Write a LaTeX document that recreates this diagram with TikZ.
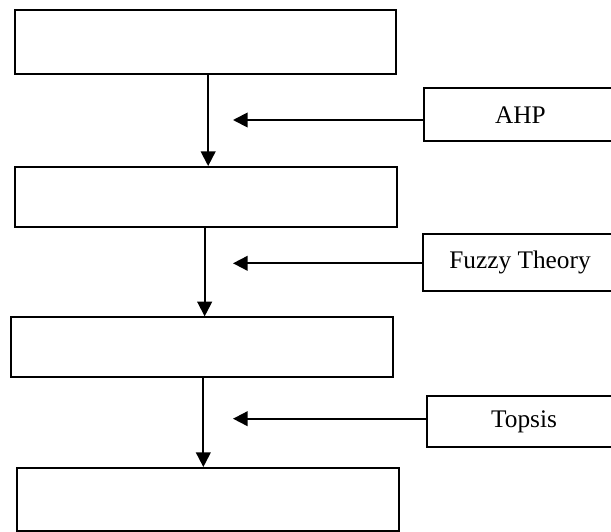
\documentclass[tikz,border=0pt]{standalone}
\usepackage{fontspec}
\setmainfont{Liberation Serif}
\usetikzlibrary{arrows.meta}
\tikzstyle{stage} = [rectangle, draw=black, fill=white, line width=1.4pt,
inner sep=0pt, minimum width=286pt, minimum height=45pt]
\tikzstyle{method} = [stage, minimum width=145pt, minimum height=40pt,
font=\fontsize{19}{23}\selectfont]
\tikzstyle{flow} = [->, line width=1.4pt]

\begin{document}
\begin{tikzpicture}[x=0.75pt, y=-0.75pt, >={Triangle[length=11pt, width=11pt]}]

	\useasboundingbox (0,0) rectangle (611,532);

	% main stages
	\node[stage, minimum height=48pt] (stage1) at (205.5,42)  {};
	\node[stage]                      (stage2) at (206,197)   {};
	\node[stage]                      (stage3) at (202,347.3) {};
	\node[stage, minimum height=47pt] (stage4) at (208,499.3) {};

	% methods
	\node[method]                        (ahp)    at (520.4,114.7) {AHP};
	\node[method, minimum height=42.7pt] (fuzzy)  at (520,262.5)   {Fuzzy Theory};
	\node[method, minimum height=38.2pt] (topsis) at (524,421.5)   {Topsis};

	\coordinate (ahptip)    at (233,120);
	\coordinate (fuzzytip)  at (233,263.3);
	\coordinate (topsistip) at (233,418.7);

	\draw[flow] ([xshift=2pt]stage1.south) -- ([xshift=2pt]stage1.south |- stage2.north);
	\draw[flow] ([xshift=-1pt]stage2.south) -- ([xshift=-1pt]stage2.south |- stage3.north);
	\draw[flow] ([xshift=1pt]stage3.south) -- ([xshift=1pt]stage3.south |- stage4.north);

	\draw[flow] (ahp.west |- ahptip)       -- (ahptip);
	\draw[flow] (fuzzy.west |- fuzzytip)   -- (fuzzytip);
	\draw[flow] (topsis.west |- topsistip) -- (topsistip);

\end{tikzpicture}
\end{document}
